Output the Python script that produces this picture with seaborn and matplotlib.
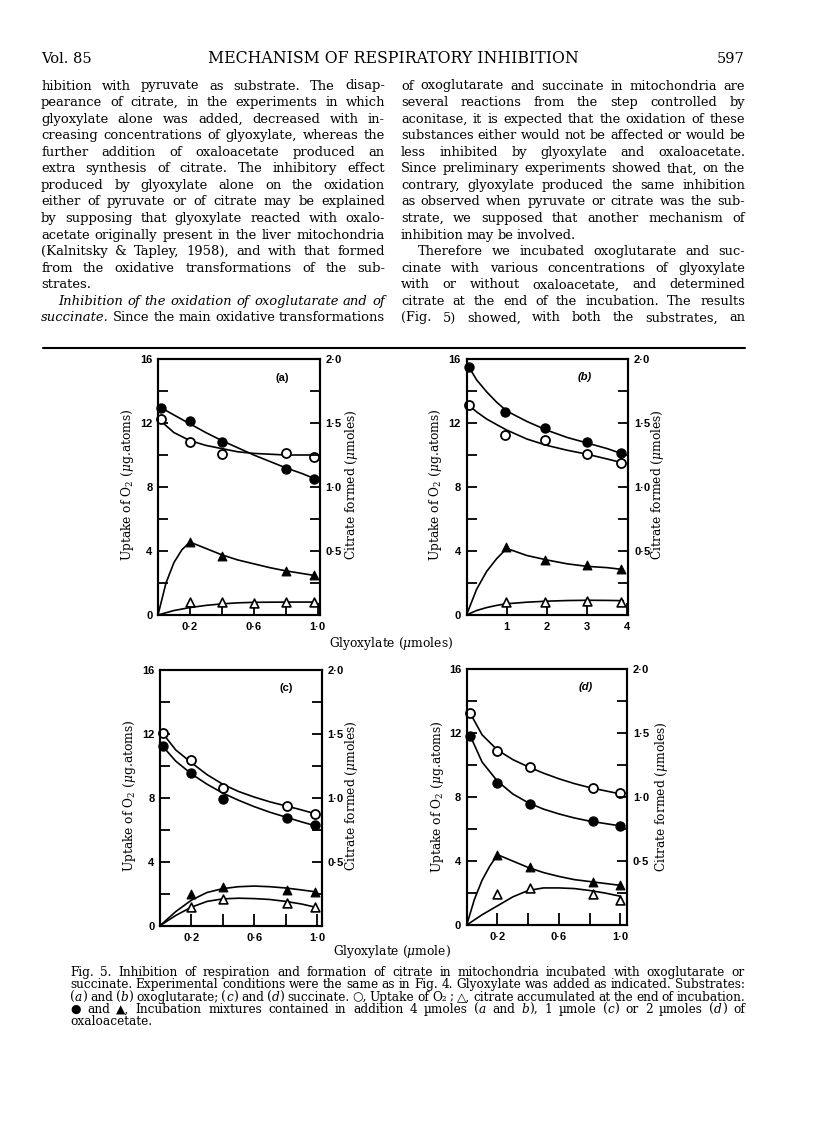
import matplotlib
matplotlib.use("Agg")
import matplotlib.pyplot as plt
import matplotlib.transforms as mtrans
from matplotlib.lines import Line2D
import numpy as np
import seaborn as sns

# ---- panel (a): oxoglutarate, 4 umoles oxaloacetate ----
a_x = [0.02, 0.2, 0.4, 0.8, 0.975]
a_o2 = [12.23, 10.83, 10.06, 10.15, 9.9]
a_o2_oaa = [12.92, 12.12, 10.83, 9.1, 8.52]
a_tri_x = [0.2, 0.4, 0.8, 0.975]
a_cit_oaa = [0.57, 0.46, 0.34, 0.31]
a_otri_x = [0.2, 0.4, 0.6, 0.8, 0.975]
a_cit = [0.10, 0.10, 0.092, 0.10, 0.10]
# hand-drawn curves
a_fit_x = [0.02, 0.1, 0.2, 0.3, 0.4, 0.5, 0.6, 0.7, 0.8, 0.9, 0.975]
a_o2_fit = [12.1, 11.4, 10.9, 10.6, 10.4, 10.2, 10.1, 10.05, 10.0, 10.0, 10.0]
a_o2_oaa_fit = [12.95, 12.5, 11.95, 11.4, 10.9, 10.45, 10.0, 9.6, 9.2, 8.85, 8.55]
a_tfit_x = [0, 0.05, 0.1, 0.15, 0.2, 0.3, 0.4, 0.5, 0.6, 0.7, 0.8, 0.9, 0.975]
a_cit_oaa_fit = [0, 0.25, 0.41, 0.51, 0.57, 0.52, 0.47, 0.43, 0.40, 0.37, 0.345, 0.325, 0.31]
a_ofit_x = [0, 0.1, 0.2, 0.3, 0.4, 0.5, 0.6, 0.8, 0.975]
a_cit_fit = [0, 0.035, 0.058, 0.075, 0.087, 0.095, 0.099, 0.101, 0.101]

# ---- panel (b): oxoglutarate, 0-4 umoles glyoxylate ----
b_x = [0.06, 0.97, 1.96, 2.99, 3.85]
b_o2 = [13.1, 11.25, 10.94, 10.06, 9.48]
b_o2_oaa = [15.5, 12.7, 11.67, 10.79, 10.1]
b_tri_x = [0.99, 1.96, 2.99, 3.85]
b_cit_oaa = [0.53, 0.43, 0.39, 0.36]
b_cit = [0.104, 0.104, 0.112, 0.104]
b_fit_x = [0.06, 0.25, 0.5, 0.75, 1.0, 1.5, 2.0, 2.5, 3.0, 3.5, 3.9]
b_o2_fit = [13.1, 12.7, 12.25, 11.9, 11.56, 11.0, 10.6, 10.3, 10.05, 9.75, 9.5]
b_o2_oaa_fit = [15.5, 14.7, 13.95, 13.3, 12.75, 12.1, 11.55, 11.1, 10.75, 10.4, 10.05]
b_tfit_x = [0, 0.25, 0.5, 0.75, 1.0, 1.5, 2.0, 2.5, 3.0, 3.5, 3.9]
b_cit_oaa_fit = [0, 0.2, 0.34, 0.44, 0.52, 0.465, 0.43, 0.40, 0.38, 0.37, 0.355]
b_cit_fit = [0, 0.035, 0.058, 0.075, 0.088, 0.1, 0.108, 0.113, 0.115, 0.114, 0.112]

# ---- panel (c): succinate, 1 umole oxaloacetate ----
c_x = [0.02, 0.2, 0.4, 0.81, 0.99]
c_o2 = [12.06, 10.36, 8.63, 7.48, 7.02]
c_o2_oaa = [11.25, 9.56, 7.94, 6.77, 6.29]
c_tri_x = [0.2, 0.4, 0.81, 0.99]
c_cit_oaa = [0.245, 0.305, 0.28, 0.265]
c_cit = [0.15, 0.21, 0.18, 0.145]
c_fit_x = [0.02, 0.1, 0.2, 0.3, 0.4, 0.5, 0.6, 0.7, 0.8, 0.9, 0.99]
c_o2_fit = [12.0, 11.0, 10.2, 9.45, 8.85, 8.4, 8.05, 7.75, 7.5, 7.25, 7.0]
c_o2_oaa_fit = [11.2, 10.3, 9.5, 8.85, 8.3, 7.85, 7.45, 7.1, 6.8, 6.5, 6.25]
c_tfit_x = [0, 0.1, 0.2, 0.3, 0.4, 0.5, 0.6, 0.7, 0.8, 0.9, 0.99]
c_cit_oaa_fit = [0, 0.11, 0.2, 0.26, 0.29, 0.305, 0.31, 0.305, 0.295, 0.28, 0.265]
c_cit_fit = [0, 0.08, 0.145, 0.19, 0.21, 0.215, 0.212, 0.205, 0.19, 0.17, 0.145]

# ---- panel (d): succinate, 2 umoles oxaloacetate ----
d_x = [0.02, 0.2, 0.41, 0.82, 1.0]
d_o2 = [13.25, 10.9, 9.9, 8.6, 8.24]
d_o2_oaa = [11.83, 8.87, 7.57, 6.53, 6.2]
d_tri_x = [0.2, 0.41, 0.82, 1.0]
d_cit_oaa = [0.55, 0.45, 0.34, 0.31]
d_cit = [0.24, 0.29, 0.24, 0.195]
d_fit_x = [0.02, 0.1, 0.2, 0.3, 0.4, 0.5, 0.6, 0.7, 0.8, 0.9, 1.0]
d_o2_fit = [13.3, 11.9, 10.95, 10.35, 9.9, 9.5, 9.15, 8.85, 8.6, 8.4, 8.2]
d_o2_oaa_fit = [11.9, 10.2, 9.0, 8.2, 7.65, 7.25, 6.95, 6.7, 6.5, 6.35, 6.2]
d_tfit_x = [0, 0.05, 0.1, 0.15, 0.2, 0.3, 0.4, 0.5, 0.6, 0.7, 0.8, 0.9, 1.0]
d_cit_oaa_fit = [0, 0.2, 0.35, 0.46, 0.55, 0.5, 0.45, 0.41, 0.38, 0.355, 0.34, 0.325, 0.31]
d_ofit_x = [0, 0.1, 0.2, 0.3, 0.4, 0.5, 0.6, 0.7, 0.8, 0.9, 1.0]
d_cit_fit = [0, 0.08, 0.15, 0.22, 0.27, 0.29, 0.29, 0.285, 0.27, 0.25, 0.225]

frac_ticks = [0.2, 0.4, 0.6, 0.8, 1.0]
frac_labels = ['0·2', '', '0·6', '', '1·0']
int_ticks = [1, 2, 3, 4]
int_labels = ['1', '2', '3', '4']
o2_labels = ['0', '', '4', '', '8', '', '12', '', '16']
cit_labels = ['', '', '0·5', '', '1·0', '', '1·5', '', '2·0']

# ---- page text ----
header_left = 'Vol. 85'
header_mid = 'MECHANISM OF RESPIRATORY INHIBITION'
header_right = '597'
left_col = [
    'hibition with pyruvate as substrate. The disap-',
    'pearance of citrate, in the experiments in which',
    'glyoxylate alone was added, decreased with in-',
    'creasing concentrations of glyoxylate, whereas the',
    'further addition of oxaloacetate produced an',
    'extra synthesis of citrate. The inhibitory effect',
    'produced by glyoxylate alone on the oxidation',
    'either of pyruvate or of citrate may be explained',
    'by supposing that glyoxylate reacted with oxalo-',
    'acetate originally present in the liver mitochondria',
    '(Kalnitsky & Tapley, 1958), and with that formed',
    'from the oxidative transformations of the sub-',
    'strates.',
    '*Inhibition *of *the *oxidation *of *oxoglutarate *and *of',
    '*succinate. Since the main oxidative transformations',
]
right_col = [
    'of oxoglutarate and succinate in mitochondria are',
    'several reactions from the step controlled by',
    'aconitase, it is expected that the oxidation of these',
    'substances either would not be affected or would be',
    'less inhibited by glyoxylate and oxaloacetate.',
    'Since preliminary experiments showed that, on the',
    'contrary, glyoxylate produced the same inhibition',
    'as observed when pyruvate or citrate was the sub-',
    'strate, we supposed that another mechanism of',
    'inhibition may be involved.',
    'Therefore we incubated oxoglutarate and suc-',
    'cinate with various concentrations of glyoxylate',
    'with or without oxaloacetate, and determined',
    'citrate at the end of the incubation. The results',
    '(Fig. 5) showed, with both the substrates, an',
]
caption = [
    'Fig. 5.  Inhibition of respiration and formation of citrate in mitochondria incubated with oxoglutarate or',
    'succinate. Experimental conditions were the same as in Fig. 4. Glyoxylate was added as indicated. Substrates:',
    '(*a) and (*b) oxoglutarate; (*c) and (*d) succinate.  ○, Uptake of O₂ ; △, citrate accumulated at the end of incubation.',
    '● and ▲, Incubation mixtures contained in addition 4 µmoles (*a and *b), 1 µmole (*c) or 2 µmoles (*d) of',
    'oxaloacetate.',
]

sns.set_style('ticks')
plt.rcParams['font.family'] = ['DejaVu Serif', 'DejaVu Sans']
plt.rcParams['mathtext.fontset'] = 'dejavuserif'
plt.rcParams['text.color'] = 'black'

W, H = 816, 1138
fig = plt.figure(figsize=(W / 100, H / 100), dpi=100)
fig.patch.set_facecolor('white')
renderer = fig.canvas.get_renderer()
ident = mtrans.IdentityTransform()
SERIF = ['DejaVu Serif', 'DejaVu Sans']
SANS = 'Liberation Sans'


def split_tokens(line):
    # words; '*' marks the start of an italic run inside a word, e.g. '(*a)'
    out = []
    for w in line.split(' '):
        if w == '':
            continue
        if '*' in w:
            pre, rest = w.split('*', 1)
            j = 0
            while j < len(rest) and (rest[j].isalpha() or rest[j] in '.'):
                j += 1
            if w.startswith('*') and all(c.isalpha() or c in '.,-' for c in rest):
                parts = [(rest, True)]
            else:
                parts = [(pre, False), (rest[:j], True), (rest[j:], False)]
        else:
            parts = [(w, False)]
        out.append([p for p in parts if p[0]])
    return out


def measure(word, size):
    ws = []
    for s, ital in word:
        t = fig.text(0, 0, s, fontsize=size, family=SERIF,
                     style='italic' if ital else 'normal', transform=ident)
        ws.append(t.get_window_extent(renderer).width)
        t.remove()
    return ws


def layout_block(lines, x0s, x1, ys, size, justify):
    toks = [split_tokens(l) for l in lines]
    sp = size * 0.33
    k = 1.0
    for tk, x0, j in zip(toks, x0s, justify):
        if not j or len(tk) < 2:
            continue
        tot = sum(sum(measure(w, size)) for w in tk)
        k = min(k, (x1 - x0 - sp * (len(tk) - 1)) / tot)
    fs = size * k
    sp = fs * 0.33
    for tk, x0, y, j in zip(toks, x0s, ys, justify):
        wl = [measure(w, fs) for w in tk]
        tot = sum(sum(w) for w in wl)
        gap = (x1 - x0 - tot) / (len(tk) - 1) if (j and len(tk) > 1) else sp
        x = x0
        for w, ws in zip(tk, wl):
            for (s, ital), wi in zip(w, ws):
                fig.text(x, H - y, s, fontsize=fs, family=SERIF,
                         style='italic' if ital else 'normal',
                         ha='left', va='baseline', transform=ident)
                x += wi
            x += gap


# header
fig.text(41, H - 63, header_left, fontsize=10.5, family=SERIF, transform=ident)
fig.text(393, H - 63, header_mid, fontsize=11.3, family=SERIF, ha='center', transform=ident)
fig.text(745, H - 63, header_right, fontsize=10.5, family=SERIF, ha='right', transform=ident)

# body columns
body_size = 10.8
rows = range(len(left_col))
layout_block(left_col, [41 + (17 if i == 13 else 0) for i in rows], 385,
             [89.5 + 16.57 * i for i in rows], body_size, [i != 12 for i in rows])
layout_block(right_col, [401 + (17 if i == 10 else 0) for i in rows], 745,
             [89.5 + 16.57 * i for i in rows], body_size, [i != 9 for i in rows])

fig.add_artist(Line2D([43, 745], [H - 348, H - 348], transform=ident, color='black', lw=1.5))

# caption
crow = range(len(caption))
layout_block(caption, [70 for _ in crow], 745, [976 + 12.3 * i for i in crow], 9.0,
             [i != len(caption) - 1 for i in crow])


def panel(rect, label, italic_label, xlim, xticks, xlabels,
          x, o2, o2_oaa, tri_x, cit_oaa, otri_x, cit,
          fit_x, o2_fit, o2_oaa_fit, tfit_x, cit_oaa_fit, ofit_x, cit_fit):
    l, t, r, b = rect
    ax = fig.add_axes([l / W, 1 - b / H, (r - l) / W, (b - t) / H])
    ax2 = ax.twinx()

    sns.lineplot(x=fit_x, y=o2_fit, ax=ax, color='black', lw=1.2, sort=False, estimator=None)
    sns.lineplot(x=fit_x, y=o2_oaa_fit, ax=ax, color='black', lw=1.2, sort=False, estimator=None)
    sns.scatterplot(x=x, y=o2_oaa, ax=ax, marker='o', s=42, color='black',
                    edgecolor='black', linewidth=1.0, zorder=4, clip_on=False)
    sns.scatterplot(x=x, y=o2, ax=ax, marker='o', s=42, color='white',
                    edgecolor='black', linewidth=1.3, zorder=4, clip_on=False)

    sns.lineplot(x=tfit_x, y=cit_oaa_fit, ax=ax2, color='black', lw=1.2, sort=False, estimator=None)
    sns.lineplot(x=ofit_x, y=cit_fit, ax=ax2, color='black', lw=1.2, sort=False, estimator=None)
    sns.scatterplot(x=tri_x, y=cit_oaa, ax=ax2, marker='^', s=40, color='black',
                    edgecolor='black', linewidth=0.8, zorder=4, clip_on=False)
    sns.scatterplot(x=otri_x, y=cit, ax=ax2, marker='^', s=40, color='white',
                    edgecolor='black', linewidth=1.2, zorder=4, clip_on=False)

    ax.set_xlim(*xlim)
    ax.set_ylim(0, 16)
    ax2.set_ylim(0, 2.0)
    ax.set_xticks(xticks)
    ax.set_xticklabels(xlabels, fontfamily=SANS, fontweight='bold', fontsize=8)
    ax.set_yticks(range(0, 17, 2))
    ax.set_yticklabels(o2_labels, fontfamily=SANS, fontweight='bold', fontsize=8)
    ax2.set_yticks(np.arange(0, 2.01, 0.25))
    ax2.set_yticklabels(cit_labels, fontfamily=SANS, fontweight='bold', fontsize=8)
    ax.tick_params(axis='both', direction='in', length=7, width=1.3, colors='black', pad=4)
    ax.tick_params(axis='x', length=9, pad=5)
    ax2.tick_params(axis='y', direction='in', length=7, width=1.3, colors='black', pad=4)
    ax.set_xlabel('')
    ax.set_ylabel('')
    ax2.set_ylabel('')
    for a in (ax, ax2):
        for sp in a.spines.values():
            sp.set_visible(True)
            sp.set_color('black')
            sp.set_linewidth(1.5)
    ax.text(*label[1:], label[0], transform=ax.transAxes, fontsize=8,
            fontfamily=SANS, fontweight='bold', style='italic' if italic_label else 'normal',
            ha='center', va='center')
    return ax, ax2


rect_a = (158, 359, 320, 615)
rect_b = (466.5, 359, 628.5, 615)
rect_c = (160, 670, 321.7, 925.7)
rect_d = (466.7, 669.3, 627.3, 925)

panel(rect_a, ('(a)', 0.765, 0.925), False, (0, 1.015), frac_ticks, frac_labels,
      a_x, a_o2, a_o2_oaa, a_tri_x, a_cit_oaa, a_otri_x, a_cit,
      a_fit_x, a_o2_fit, a_o2_oaa_fit, a_tfit_x, a_cit_oaa_fit, a_ofit_x, a_cit_fit)
panel(rect_b, ('(b)', 0.73, 0.93), True, (0, 4.03), int_ticks, int_labels,
      b_x, b_o2, b_o2_oaa, b_tri_x, b_cit_oaa, b_tri_x, b_cit,
      b_fit_x, b_o2_fit, b_o2_oaa_fit, b_tfit_x, b_cit_oaa_fit, b_tfit_x, b_cit_fit)
panel(rect_c, ('(c)', 0.78, 0.93), False, (0, 1.03), frac_ticks, frac_labels,
      c_x, c_o2, c_o2_oaa, c_tri_x, c_cit_oaa, c_tri_x, c_cit,
      c_fit_x, c_o2_fit, c_o2_oaa_fit, c_tfit_x, c_cit_oaa_fit, c_tfit_x, c_cit_fit)
panel(rect_d, ('(d)', 0.74, 0.93), True, (0, 1.045), frac_ticks, frac_labels,
      d_x, d_o2, d_o2_oaa, d_tri_x, d_cit_oaa, d_tri_x, d_cit,
      d_fit_x, d_o2_fit, d_o2_oaa_fit, d_tfit_x, d_cit_oaa_fit, d_ofit_x, d_cit_fit)

# axis titles
ylab_left = 'Uptake of O$_2$ ($\\mu$g.atoms)'
ylab_right = 'Citrate formed ($\\mu$moles)'
for (xl, xr, yc) in [(127, 352, 485), (435, 658, 485), (130, 352, 796), (438, 662, 797)]:
    fig.text(xl, H - yc, ylab_left, rotation=90, fontsize=8.8, ha='center', va='center', transform=ident)
    fig.text(xr, H - yc, ylab_right, rotation=90, fontsize=8.8, ha='center', va='center', transform=ident)
fig.text(391, H - 643, 'Glyoxylate ($\\mu$moles)', fontsize=8.8, ha='center', va='center', transform=ident)
fig.text(392, H - 952, 'Glyoxylate ($\\mu$mole)', fontsize=8.8, ha='center', va='center', transform=ident)

fig.savefig('out.png', dpi=100, facecolor='white')
